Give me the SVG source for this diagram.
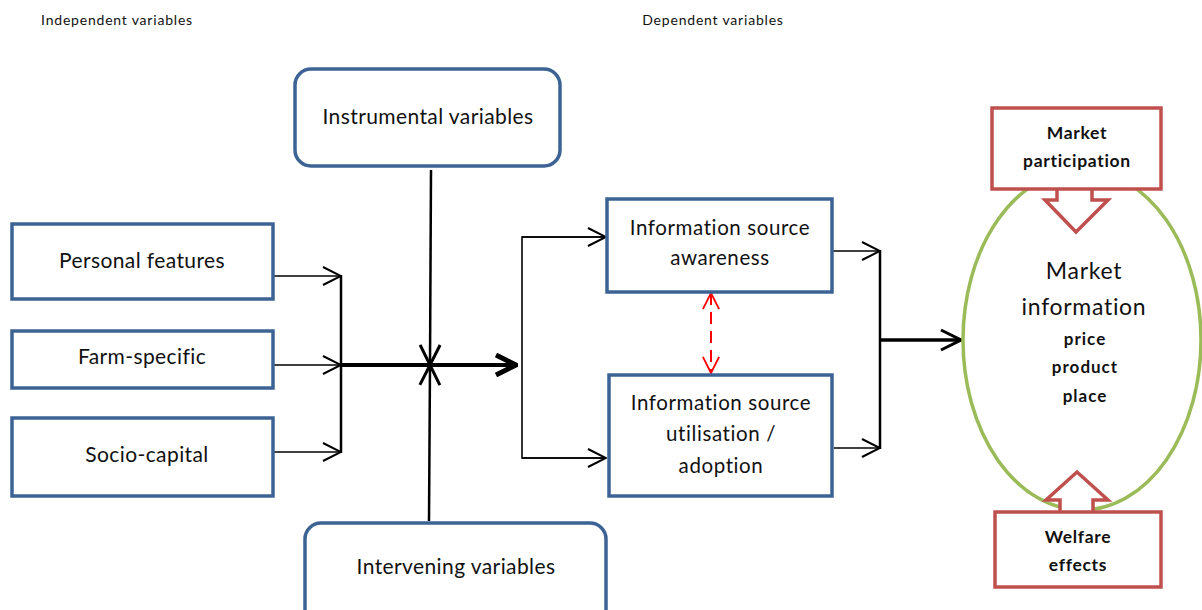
<svg xmlns="http://www.w3.org/2000/svg" width="1202" height="610" viewBox="0 0 1202 610">
<defs>
<style>
.t{font-family:Lato,"Liberation Sans",sans-serif;fill:#111;text-anchor:middle}
.b{font-size:21px;letter-spacing:0.4px}
.i{font-size:20.5px;letter-spacing:0.6px}
.r{font-size:17.5px;font-weight:bold;letter-spacing:0.7px}
.p{font-size:17px;font-weight:bold;letter-spacing:1px}
.m{font-size:23px;letter-spacing:0.7px}
.h{font-size:14px;letter-spacing:0.8px}
.blue{fill:#fff;stroke:#3d6394;stroke-width:3.5}
.red{fill:#fff;stroke:#c0504d;stroke-width:3.5}
.ln{fill:none;stroke:#000;stroke-width:1.6}
.th{fill:none;stroke:#000;stroke-width:4}
</style>
<marker id="a" viewBox="0 0 20 20" refX="19" refY="10" markerWidth="20" markerHeight="20" markerUnits="userSpaceOnUse" orient="auto"><path d="M1,1 L19,10 L1,19" fill="none" stroke="#000" stroke-width="2"/></marker>
<marker id="ak" viewBox="0 0 24 24" refX="22" refY="12" markerWidth="24" markerHeight="24" markerUnits="userSpaceOnUse" orient="auto"><path d="M2,2 L22,12 L2,22" fill="none" stroke="#000" stroke-width="5" stroke-linejoin="miter"/></marker>
<marker id="ax" viewBox="0 0 24 24" refX="22" refY="12" markerWidth="24" markerHeight="24" markerUnits="userSpaceOnUse" orient="auto"><path d="M2,2 L22,12 L2,22" fill="none" stroke="#000" stroke-width="3"/></marker>
<marker id="ar" viewBox="0 0 20 20" refX="19" refY="10" markerWidth="18" markerHeight="20" markerUnits="userSpaceOnUse" orient="auto-start-reverse"><path d="M1,1 L19,10 L1,19" fill="none" stroke="#f00" stroke-width="2"/></marker>
</defs>
<rect width="1202" height="610" fill="#fff"/>
<text class="t h" x="117" y="25">Independent variables</text>
<text class="t h" x="713" y="25">Dependent variables</text>

<g id="connectors">
<line class="ln" x1="274" y1="276" x2="341" y2="276" marker-end="url(#a)"/>
<line class="ln" x1="274" y1="365" x2="341" y2="365" marker-end="url(#a)"/>
<line class="ln" x1="274" y1="452" x2="341" y2="452" marker-end="url(#a)"/>
<line x1="341" y1="275" x2="341" y2="453" stroke="#000" stroke-width="2.5"/>
<line class="th" x1="341" y1="365" x2="516" y2="365" marker-end="url(#ak)"/>
<line x1="431" y1="170" x2="430" y2="365" stroke="#000" stroke-width="2.5" marker-end="url(#ax)"/>
<line x1="429" y1="521" x2="430" y2="365" stroke="#000" stroke-width="2.5" marker-end="url(#ax)"/>
<polyline class="ln" points="606,237 522,237 522,458 606,458" stroke-width="2"/>
<line class="ln" x1="522" y1="237" x2="606" y2="237" marker-end="url(#a)"/>
<line class="ln" x1="522" y1="458" x2="606" y2="458" marker-end="url(#a)"/>
<line stroke="#f00" stroke-width="2" stroke-dasharray="12,7" x1="711" y1="293" x2="711" y2="373" marker-start="url(#ar)" marker-end="url(#ar)"/>
<line class="ln" x1="833" y1="251" x2="880" y2="251" marker-end="url(#a)"/>
<line class="ln" x1="834" y1="448" x2="880" y2="448" marker-end="url(#a)"/>
<line x1="880" y1="250" x2="880" y2="449" stroke="#000" stroke-width="2.5"/>
<line x1="880" y1="340" x2="961" y2="340" stroke="#000" stroke-width="3.5" marker-end="url(#ax)"/>
</g>

<g id="instrumental">
<rect class="blue" x="295" y="69" width="265" height="97" rx="16"/>
<text class="t b" x="428" y="124">Instrumental variables</text>
</g>
<g id="intervening">
<rect class="blue" x="305" y="523" width="301" height="110" rx="16"/>
<text class="t b" x="456" y="574">Intervening variables</text>
</g>
<g id="personal">
<rect class="blue" x="12" y="224" width="261" height="75"/>
<text class="t b" x="142" y="268">Personal features</text>
</g>
<g id="farm">
<rect class="blue" x="12" y="331" width="261" height="57"/>
<text class="t b" x="142" y="364">Farm-specific</text>
</g>
<g id="socio">
<rect class="blue" x="12" y="418" width="261" height="78"/>
<text class="t b" x="147" y="462">Socio-capital</text>
</g>
<g id="awareness">
<rect class="blue" x="607" y="199" width="225" height="93"/>
<text class="t i" x="720" y="235">Information source</text>
<text class="t i" x="720" y="265">awareness</text>
</g>
<g id="utilisation">
<rect class="blue" x="609" y="375" width="223" height="121"/>
<text class="t i" x="721" y="410">Information source</text>
<text class="t i" x="721" y="441">utilisation /</text>
<text class="t i" x="721" y="473">adoption</text>
</g>
<g id="market-information">
<ellipse cx="1082" cy="340" rx="119" ry="170" fill="#fff" stroke="#9bbb59" stroke-width="3.5"/>
<text class="t m" x="1084" y="279">Market</text>
<text class="t m" x="1084" y="315">information</text>
<text class="t p" x="1085" y="345">price</text>
<text class="t p" x="1085" y="373">product</text>
<text class="t p" x="1085" y="402">place</text>
</g>
<g id="market-participation">
<path class="red" d="M1057,188 L1057,200 L1045,200 L1076,232 L1108,200 L1092,200 L1092,188"/>
<rect class="red" x="992" y="108" width="169" height="81"/>
<text class="t r" x="1077" y="139">Market</text>
<text class="t r" x="1077" y="167">participation</text>
</g>
<g id="welfare">
<path class="red" d="M1060,513 L1060,500 L1046,500 L1077,472 L1108,500 L1093,500 L1093,513"/>
<rect class="red" x="995" y="512" width="166" height="75"/>
<text class="t r" x="1078" y="543">Welfare</text>
<text class="t r" x="1078" y="571">effects</text>
</g>
</svg>
